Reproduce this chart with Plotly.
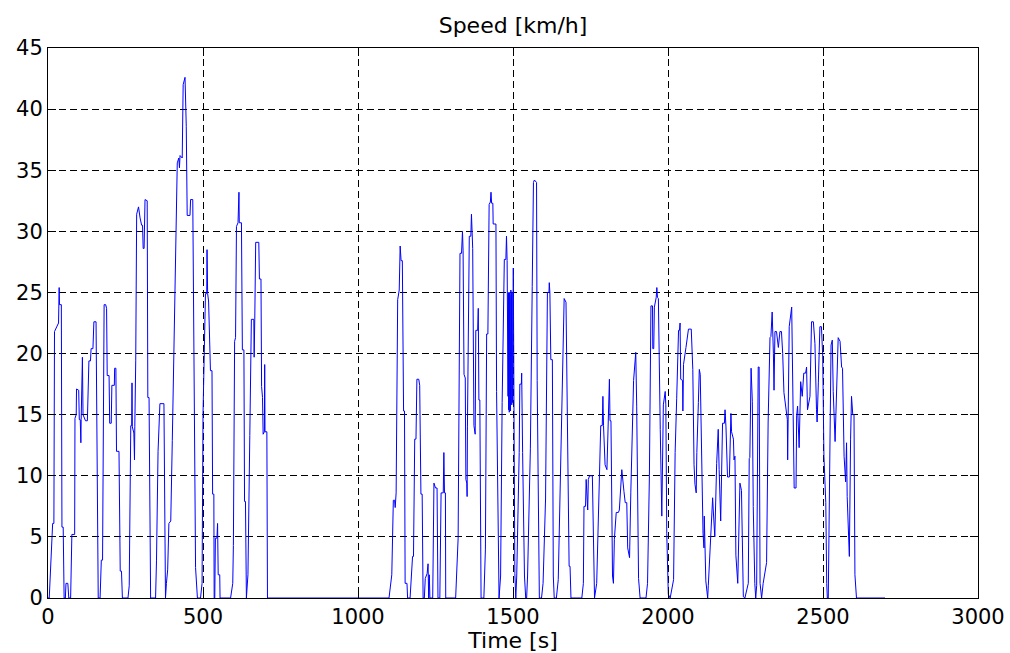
import plotly.graph_objects as go

# Speed trace (time in s, speed in km/h)
time_s = [
    0, 4, 15, 19, 21, 29, 34, 36, 37, 43, 45, 49, 52,
    56, 58, 64, 67, 73, 77, 86, 87, 91, 92, 99, 101, 104, 106, 107, 111, 113, 118, 121, 127, 132, 137, 139, 145, 148, 155, 157, 159, 162,
    168, 172, 176, 181, 186, 189, 191, 197, 199, 204, 206, 214, 215, 219, 221, 229, 233, 237, 240,
    258, 262, 267, 270, 271, 272, 277, 279, 280, 283, 286, 290, 292, 297, 302, 305, 307, 310, 313, 320, 322, 326, 329, 331,
    347, 350, 355, 361, 374, 376, 377, 379, 382, 386, 390, 396, 401, 406, 410, 414, 417, 422, 424, 426, 433, 436, 442, 446, 449, 458, 460, 467, 471, 476, 482,
    492, 497, 500, 504, 508, 512, 513, 515, 518, 524, 529, 531, 535, 536, 538, 540, 545, 547, 549, 554, 555,
    589, 596, 598, 602, 605, 608, 613, 616, 617, 624, 627, 632, 634, 637, 640,
    645, 651, 656, 664, 665, 667, 670, 680, 682, 687, 689, 692, 694, 698, 699, 700, 706, 708,
    1100, 1109, 1114, 1118, 1120, 1123, 1128, 1133, 1136, 1139, 1143, 1147, 1150, 1152, 1158, 1160,
    1168, 1176, 1179, 1183, 1187, 1190, 1196, 1199, 1203, 1207, 1210,
    1214, 1217, 1223, 1226, 1228, 1230, 1232, 1241, 1245, 1250, 1255, 1258, 1264, 1268, 1275, 1277, 1279, 1282, 1283,
    1315, 1323, 1329, 1334, 1337, 1339, 1342, 1346, 1348, 1351, 1352, 1353, 1359, 1364, 1366, 1370, 1374, 1378, 1380, 1386, 1388, 1390, 1393, 1397,
    1402, 1406, 1411, 1415, 1419, 1423, 1427, 1429, 1431, 1435, 1436, 1445, 1447, 1452, 1455,
    1460, 1465, 1472, 1477, 1479, 1481, 1484,
    1485, 1486, 1487, 1488, 1489, 1490, 1491, 1492, 1493, 1494, 1495, 1496, 1497, 1498, 1499,
    1501, 1503, 1506, 1509,
    1512, 1520, 1522, 1527, 1528, 1531, 1537, 1541,
    1544, 1547, 1556, 1562, 1566, 1569, 1576, 1578, 1582, 1585,
    1592, 1597, 1605, 1611, 1616, 1617, 1619, 1622, 1627, 1630, 1633,
    1640, 1646, 1654, 1660, 1665, 1671, 1674, 1676, 1681, 1684, 1687,
    1722, 1727, 1729, 1734, 1736, 1738, 1741, 1743, 1747, 1756, 1760, 1763,
    1770, 1776, 1783, 1788, 1790, 1792, 1797, 1803, 1808, 1811, 1813, 1816, 1821, 1824, 1827, 1833, 1840, 1843, 1851, 1854, 1858, 1862, 1867, 1870, 1876, 1880, 1889, 1896, 1899, 1905, 1910,
    1929, 1934, 1940, 1945, 1950, 1951, 1954, 1956, 1962, 1964, 1966, 1969, 1975, 1978, 1980, 1985, 1991, 1993, 1996, 2001, 2007,
    2018, 2023, 2028, 2034, 2037, 2039, 2041, 2047, 2048, 2050, 2058, 2066, 2075, 2080, 2084, 2087, 2091, 2093, 2098, 2101, 2104, 2109, 2113, 2116, 2117, 2122, 2128,
    2130, 2137, 2144, 2146, 2151, 2157, 2162, 2165, 2170, 2176, 2182, 2184, 2187, 2192, 2198, 2203, 2205, 2211, 2213, 2216, 2219, 2225, 2232, 2237, 2243, 2248,
    2259, 2262, 2264, 2268, 2272, 2275, 2278, 2280, 2283, 2286, 2291, 2294, 2297, 2302,
    2307, 2318, 2323, 2329, 2332, 2336, 2340, 2342, 2345, 2350, 2356, 2361, 2366, 2370, 2374, 2380, 2385, 2386, 2389, 2391, 2399, 2402, 2407, 2413, 2415, 2418, 2423, 2428, 2433, 2438, 2444, 2447, 2450, 2458, 2463, 2469, 2474, 2479, 2481, 2485, 2490, 2495, 2499, 2503, 2509, 2512, 2514,
    2517, 2520, 2522, 2526, 2530, 2533, 2539, 2544, 2549, 2555, 2560, 2563, 2568, 2573, 2576, 2578, 2585, 2589, 2592, 2596, 2600, 2603, 2608, 2700,
]

speed_kmh = [
    0, 0, 6.1, 6.1, 21.8, 22.3, 22.5, 25.4, 24, 24, 5.8, 5.8, 0,
    0, 1.2, 1.2, 0, 0, 5.2, 5.2, 14.7, 15, 17.1, 17, 14.6, 14.6, 12.7, 14.6, 19.7, 15, 14.7, 14.5, 14.5, 19.4, 19.4, 20.4, 20.4, 22.6, 22.6, 13, 13, 0,
    0, 3.1, 3.1, 24, 24, 23.7, 18.2, 18.2, 14.3, 14.3, 17.4, 17.4, 18.8, 18.8, 12, 12, 2.2, 2.2, 0,
    0, 1, 14.1, 14.1, 17.6, 14, 13.5, 11.3, 14, 19.4, 31.4, 31.7, 32, 31.1, 30.5, 30.5, 28.6, 28.6, 32.6, 32.5, 16.4, 16.4, 3.1, 0,
    0, 3.1, 12, 15.9, 15.9, 6, 0, 0, 1.2, 2.3, 6.1, 6.3, 12.9, 20.1, 28.2, 32.3, 35.6, 36, 35.2, 36.2, 36, 42, 42.6, 38.6, 31.3, 31.3, 32.6, 32.6, 21.9, 2.5, 0,
    0, 1.2, 15, 20, 24.9, 24.9, 28.5, 24.9, 24.3, 18.6, 18.6, 8.5, 8.5, 0, 0, 4.9, 4.9, 6.1, 1.9, 1.9, 0,
    0, 1.2, 4.3, 21, 21.3, 30.4, 30.7, 33.2, 30.7, 30.7, 20.3, 20.3, 7.9, 7.9, 0,
    1.9, 13.3, 22.8, 22.8, 19.7, 22.8, 29.1, 29.1, 26.1, 26.1, 17.3, 16.4, 13.4, 13.6, 19.1, 13.6, 13.6, 0,
    0, 1.9, 8, 8, 7.4, 8.6, 24.4, 25.2, 28.8, 27.6, 27.6, 15.3, 15.3, 1.2, 1.2, 0,
    0, 3.4, 3.4, 13, 13, 17.9, 17.9, 17.4, 8.5, 8.5, 0,
    0, 1.6, 2, 2.8, 0, 1.9, 0, 0, 9.4, 9, 9, 0, 0, 8.6, 8.6, 11.9, 8.6, 8.6, 0,
    0, 4.9, 28.2, 28.2, 30, 28.4, 18.3, 18, 9.7, 9.4, 8.3, 14, 29.6, 29.6, 31.4, 28.6, 14.1, 13.4, 21.9, 21.9, 23.7, 16.2, 16.2, 0,
    0, 0, 4, 21.6, 21.6, 32.2, 32.4, 33.2, 32.3, 32.3, 30.6, 30.6, 16.9, 2, 0,
    1.8, 16, 27.7, 27.7, 29.6, 27.6, 16.5,
    25, 15.4, 24.8, 15.2, 25, 15.5, 24.6, 15.3, 25.2, 15.6, 24.8, 15.8, 25, 16, 16,
    27, 16.2, 2, 0,
    1.8, 11.9, 17.5, 17.5, 18.4, 11.9, 1.8, 0,
    0, 1.8, 12.2, 25.5, 34, 34.2, 34, 17.8, 3, 0,
    0, 1.2, 8.1, 25, 25, 25.8, 25, 19.5, 19.5, 1.8, 0,
    0, 1.5, 11.3, 19.3, 24.5, 24.2, 16.1, 16.1, 2.6, 2.6, 0,
    0, 1.2, 7.5, 7.5, 9.7, 7.8, 7.2, 9.7, 10, 10, 3.7, 0,
    1.2, 8.5, 14.1, 14.1, 16.5, 14.1, 10.9, 10.5, 14.5, 17.9, 14.5, 14.5, 1.8, 1.2, 4.8, 7, 7, 7.2, 10.5, 9.4, 8.7, 7.8, 7.8, 4.1, 3.3, 8.6, 17.8, 20.1, 15.7, 1.6, 0,
    0, 1.2, 10, 23.9, 23.9, 20.4, 20.4, 23.8, 24.6, 25.4, 24.6, 24.5, 13.8, 6.7, 6.7, 15.8, 16.9, 15.8, 5.3, 0.3, 0,
    1.5, 11.9, 16.3, 21.9, 21.9, 22.5, 17.9, 17.8, 15.3, 19.1, 20.5, 22, 22, 18.7, 10.9, 9.3, 8.6, 11.9, 16, 18.7, 18.3, 9.3, 5.3, 4.1, 6.7, 1.4, 0,
    1, 5.3, 8.2, 7.2, 5, 11, 13.8, 10.5, 6.3, 14.3, 14.3, 15.4, 14, 9.9, 9.9, 15.1, 13.6, 13, 11.3, 11.6, 3.5, 1.2, 9.4, 8.8, 0.1, 0,
    1.2, 11.4, 11.5, 18.8, 16.1, 7.5, 2, 1.2, 0, 1, 18.9, 18.9, 1.2, 0,
    1.2, 2.9, 14.4, 21.3, 21.4, 23.4, 20, 17, 21.8, 21.8, 20.5, 21.8, 21.8, 20, 16.8, 15.4, 14.6, 11.3, 17, 22.2, 23.8, 18.1, 9, 9, 14.9, 15.7, 12.3, 17.7, 16.5, 18.4, 18.4, 18.9, 15.4, 16.5, 22.6, 22.6, 20.8, 15.4, 14.4, 17.6, 22.2, 22.2, 19.8, 11.6, 7.8, 1.2, 0,
    0, 5.9, 12.8, 20.7, 21.1, 16.9, 12.8, 18.1, 21.3, 21, 18.9, 18.8, 11.6, 9.5, 12.7, 8.3, 3.4, 13, 16.5, 15, 15, 1.9, 0, 0,
]

x_ticks = [0, 500, 1000, 1500, 2000, 2500, 3000]
y_ticks = [0, 5, 10, 15, 20, 25, 30, 35, 40, 45]

FONT = "DejaVu Sans"

fig = go.Figure()
fig.add_trace(go.Scatter(
    x=time_s, y=speed_kmh, mode="lines",
    line=dict(color="#0000ff", width=1),
    showlegend=False, hoverinfo="x+y",
))

axis_common = dict(
    showline=True, linecolor="black", linewidth=1, mirror="ticks",
    ticks="inside", ticklen=8, tickcolor="black", tickwidth=1,
    showgrid=True, gridcolor="black", gridwidth=1, griddash="7px,4px",
    zeroline=False, automargin=False,
    tickfont=dict(family=FONT, size=21, color="black"),
)

fig.update_layout(
    width=1010, height=653,
    margin=dict(l=48, r=32, t=48, b=55),
    paper_bgcolor="white", plot_bgcolor="white",
    title=dict(text="Speed [km/h]", x=0.5, xref="paper", xanchor="center",
               y=1 - 25 / 653, yref="container", yanchor="middle",
               font=dict(family=FONT, size=22, color="black")),
    xaxis=dict(range=[0, 3000], tickvals=x_ticks, ticktext=[str(v) for v in x_ticks],
               title=dict(text="Time [s]", standoff=2,
                          font=dict(family=FONT, size=22, color="black")),
               **axis_common),
    yaxis=dict(range=[0, 45], tickvals=y_ticks, ticktext=[str(v) for v in y_ticks],
               **axis_common),
)

fig.write_html("out.html")
